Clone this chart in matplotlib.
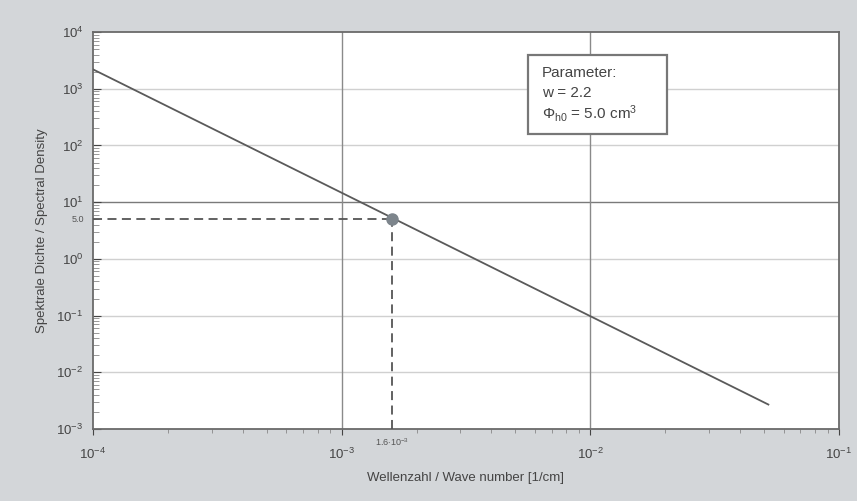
import numpy as np
import matplotlib
matplotlib.use("Agg")
from matplotlib import pyplot as plt
from matplotlib import transforms
from matplotlib.patches import Rectangle

# Werte
wellenzahl = [1e-4, 5.2e-2]
dichte = [2200.0, 0.0027]
punkt_k = 1.6e-3
punkt_phi = 5.0
x_ticks = [1e-4, 1e-3, 1e-2, 1e-1]
y_ticks = [1e-3, 1e-2, 1e-1, 1e0, 1e1, 1e2, 1e3, 1e4]
param_text = ["Parameter:", "w = 2.2", r"$\Phi_{h0}$ = 5.0 cm$^3$"]

plt.rcParams['font.family'] = ['Liberation Sans', 'DejaVu Sans']
plt.rcParams['mathtext.fontset'] = 'custom'
plt.rcParams['mathtext.rm'] = 'Liberation Sans'
plt.rcParams['mathtext.it'] = 'Liberation Sans'

bg = '#d3d6d9'
fig = plt.figure(figsize=(8.57, 5.01), dpi=100, facecolor=bg)
ax = fig.add_axes([0.1085, 0.1437, 0.8705, 0.7923])
ax.set_facecolor('white')
ax.set_xscale('log')
ax.set_yscale('log')
ax.set_xlim(1e-4, 1e-1)
ax.set_ylim(1e-3, 1e4)

# Gitter
for y in y_ticks[1:-1]:
    c = '#7a7a7a' if y == 1e1 else '#d0d0d0'
    ax.axhline(y, color=c, lw=1.0, zorder=1)
for x in x_ticks[1:-1]:
    ax.axvline(x, color='#8a8a8a', lw=1.0, zorder=1)

ax.plot(wellenzahl, dichte, color='#5a5a5a', lw=1.3, zorder=3)

# gestrichelte Hilfslinien zum Punkt
ax.plot([1e-4, punkt_k], [punkt_phi, punkt_phi], color='#555555', lw=1.3,
        ls=(0, (5, 3)), zorder=3)
ax.plot([punkt_k, punkt_k], [1e-3, punkt_phi], color='#555555', lw=1.3,
        ls=(0, (5, 3)), zorder=3)
ax.plot([punkt_k], [punkt_phi], 'o', color='#7d858c', ms=8, zorder=4)

for s in ax.spines.values():
    s.set_color('#6a6a6a')
    s.set_linewidth(1.3)

ax.set_xticks(x_ticks)
ax.set_yticks(y_ticks)
ax.tick_params(axis='x', which='major', direction='out', length=4, pad=9,
               labelsize=9.5, colors='#444444')
ax.tick_params(axis='x', which='minor', direction='out', length=3, colors='#888888')
ax.tick_params(axis='y', which='major', direction='in', length=6, pad=7,
               labelsize=9.5, colors='#444444')
ax.tick_params(axis='y', which='minor', direction='in', length=4, colors='#888888')

# kleine Beschriftungen am Punkt
tx = transforms.blended_transform_factory(ax.transData, ax.transAxes)
ax.text(punkt_k, -0.018, r"1.6$\cdot$10$^{-3}$", transform=tx, ha='center',
        va='top', fontsize=6.5, color='#555555')
ty = transforms.blended_transform_factory(ax.transAxes, ax.transData)
ax.text(-0.012, punkt_phi, "5.0", transform=ty, ha='right', va='center',
        fontsize=6.5, color='#555555')

ax.set_xlabel("Wellenzahl / Wave number [1/cm]", fontsize=9.5, color='#444444',
              labelpad=7)
ax.set_ylabel("Spektrale Dichte / Spectral Density", fontsize=9.5,
              color='#444444', labelpad=6)

# Parameter-Kasten
ax.add_patch(Rectangle((0.583, 0.743), 0.186, 0.199, transform=ax.transAxes,
                       fc='white', ec='#777777', lw=1.6, zorder=5))
for i, zeile in enumerate(param_text):
    ax.text(0.602, 0.897 - i * 0.051, zeile, transform=ax.transAxes,
            ha='left', va='center', fontsize=11, color='#444444', zorder=6)

fig.savefig("out.png", dpi=100, facecolor=bg)
